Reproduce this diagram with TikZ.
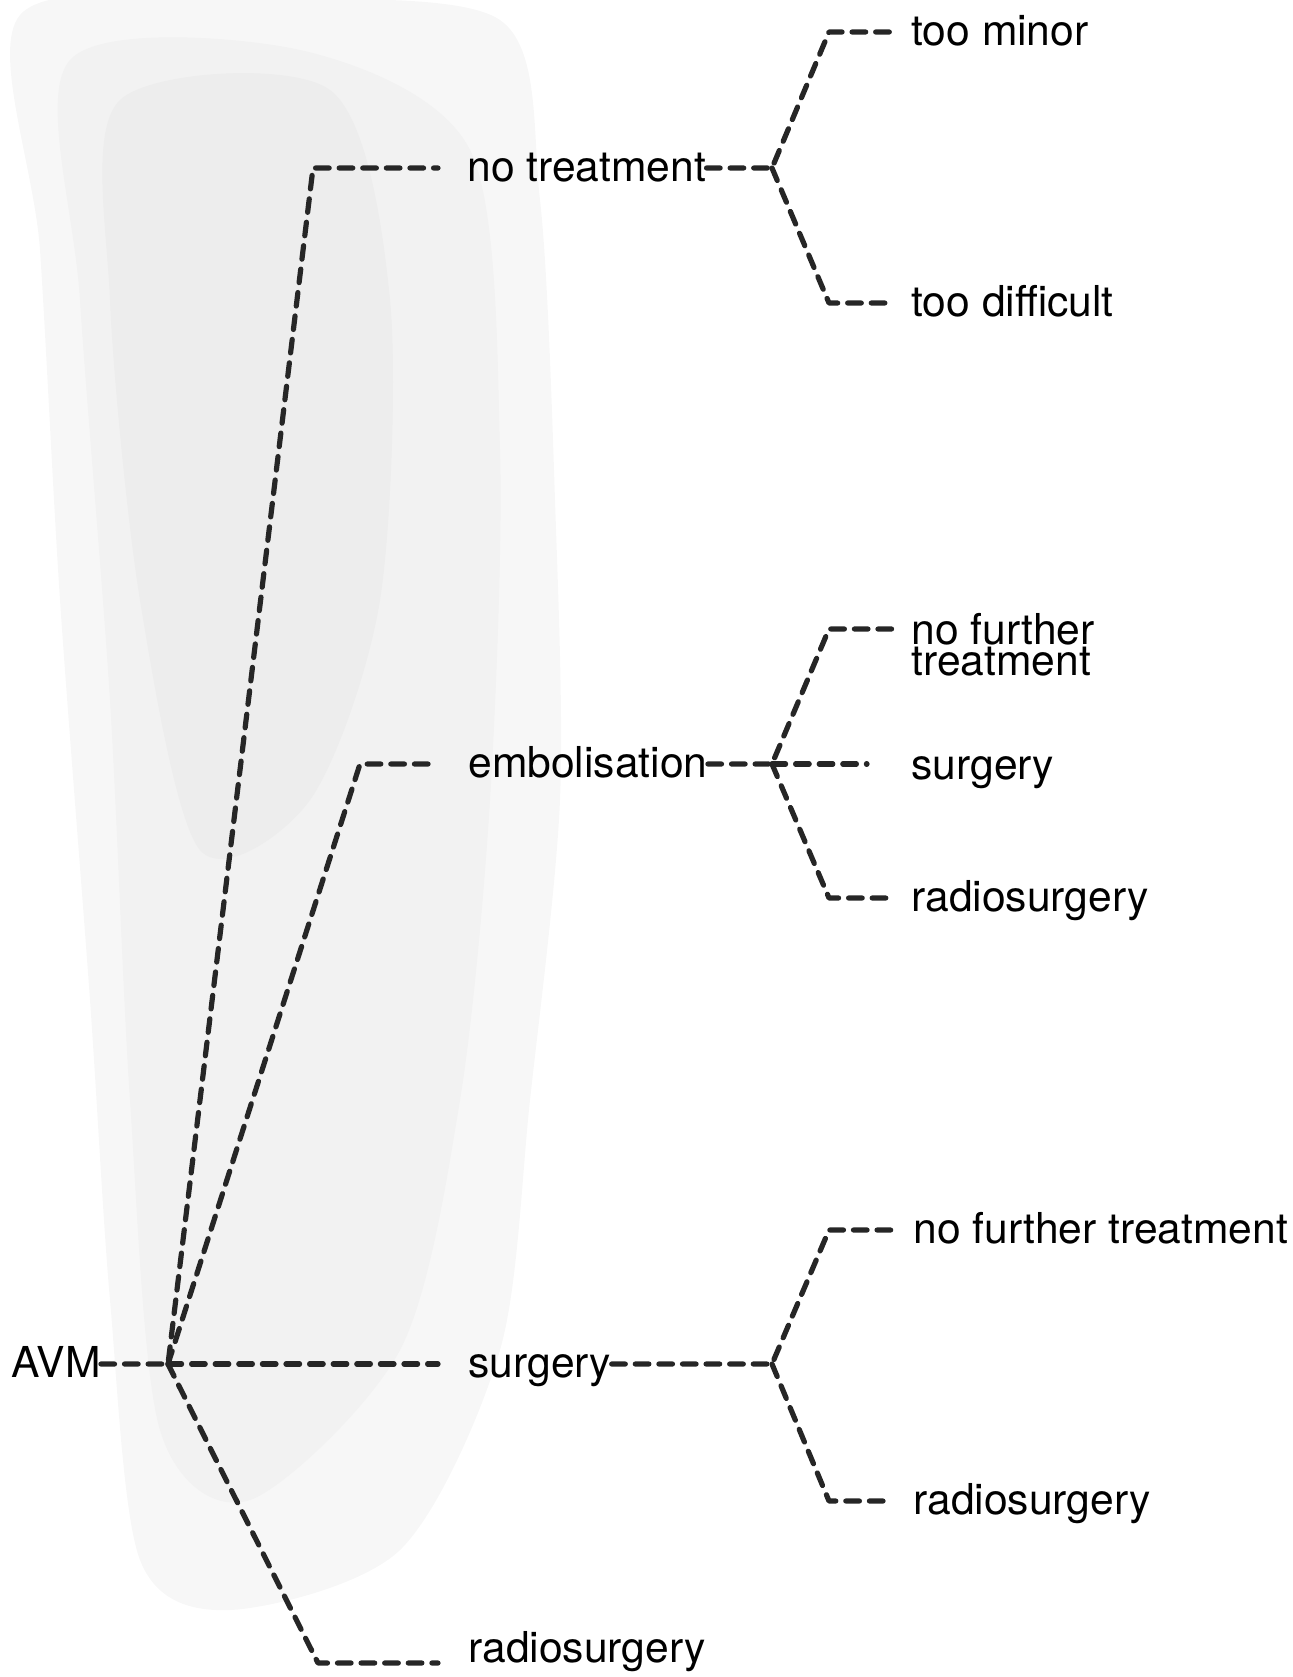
\documentclass[tikz,border=0pt]{standalone}
\usepackage{fontspec}
\setmainfont{TeX Gyre Heros}
\tikzset{
  choice/.style={anchor=west, inner sep=0pt, text height=13pt, text depth=0pt,
    font=\fontsize{21.3}{25}\selectfont},
  branch/.style={draw=black!85, line width=2.6pt, dash pattern=on 6.8pt off 5pt,
    line cap=round, line join=round},
  haze/.style={draw=none}
}

\begin{document}
\begin{tikzpicture}[x=0.5pt, y=-0.5pt]
  \useasboundingbox (0,0) rectangle (1292,1677);
  % grey haze behind the left part
  \fill[haze, black!3] plot[smooth cycle] coordinates {(20,15) (250,0) (500,20) (540,200)
    (555,500) (560,800) (530,1100) (500,1350) (400,1550) (230,1610) (140,1560)
    (110,1300) (90,1000) (60,600) (40,250)};
  \fill[haze, black!5] plot[smooth cycle] coordinates {(70,60) (300,50) (470,150)
    (500,450) (490,800) (460,1100) (400,1350) (250,1500) (160,1430) (130,1100)
    (110,700) (80,300)};
  \fill[haze, black!7] plot[smooth cycle] coordinates {(120,100) (330,90) (390,300)
    (380,600) (310,800) (200,850) (140,600) (110,300)};

  % first level
  \node[choice] (avm) at (11,1364) {AVM};
  \node[choice] (notreat) at (467,168) {no treatment};
  \node[choice] (embol) at (468,764) {embolisation};
  \node[choice] (surg) at (468,1364) {surgery};
  \node[choice] (radio) at (468,1649) {radiosurgery};
  % second level
  \node[choice] (minor) at (911,32) {too minor};
  \node[choice] (diffic) at (911,303) {too difficult};
  \node[choice] (embnone) at (911,631)
    {\vtop{\baselineskip=15.5pt\lineskiplimit=-20pt\hbox{no further}\hbox{treatment}}};
  \node[choice] (embsurg) at (911,766) {surgery};
  \node[choice] (embradio) at (911,898) {radiosurgery};
  \node[choice] (surgnone) at (913,1230) {no further treatment};
  \node[choice] (surgradio) at (913,1501) {radiosurgery};

  % junctions and corners
  \coordinate (j0) at (168,1364);
  \coordinate (j1) at (772,168);
  \coordinate (j2) at (772,764);
  \coordinate (j3) at (772,1364);

  \draw[branch] (avm.east) -- (j0) -- (313,168) -- ([xshift=-14.5pt]notreat.west);
  \draw[branch] (j0) -- (360,764) -- ([xshift=-15pt]embol.west);
  \draw[branch] (j0) -- ([xshift=-15pt]surg.west);
  \draw[branch] (j0) -- (318,1663) -- ([xshift=-15pt,yshift=-7pt]radio.west);

  \draw[branch] (notreat.east) -- (j1) -- (829,32) -- ([xshift=-9pt]minor.west);
  \draw[branch] (j1) -- (829,303) -- ([xshift=-9pt]diffic.west);

  \draw[branch] (embol.east) -- (j2) -- (829,629) -- ([xshift=-9pt,yshift=1pt]embnone.west);
  \draw[branch] (j2) -- ([xshift=-22pt,yshift=1pt]embsurg.west);
  \draw[branch] (j2) -- (829,898) -- ([xshift=-9pt]embradio.west);

  \draw[branch] (surg.east) -- (j3) -- (829,1230) -- ([xshift=-10pt]surgnone.west);
  \draw[branch] (j3) -- (829,1501) -- ([xshift=-10pt]surgradio.west);
\end{tikzpicture}
\end{document}
